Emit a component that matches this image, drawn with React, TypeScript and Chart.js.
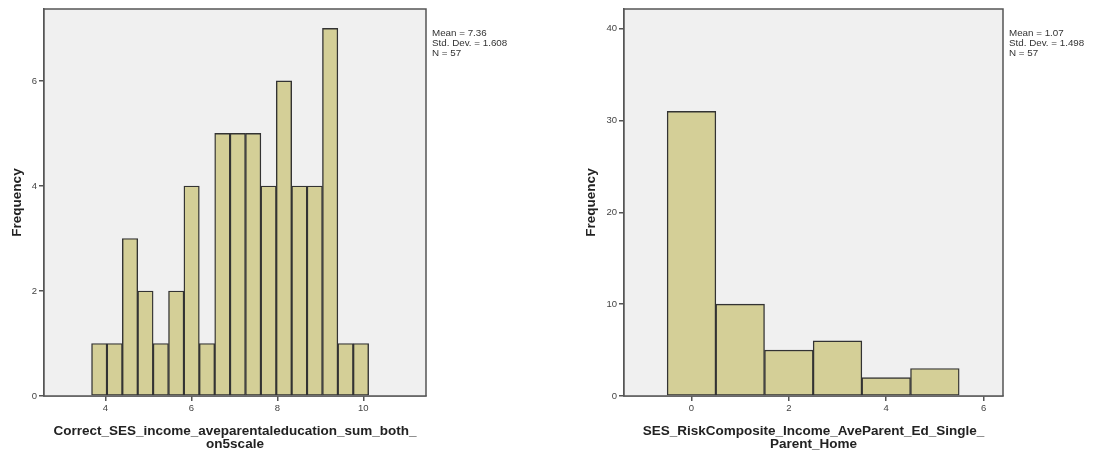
import React, { useEffect, useRef } from "react";
import { Chart, registerables } from "chart.js";

Chart.register(...registerables);

// ---------- Data ----------
const leftBinCenters = [3.859, 4.217, 4.575, 4.933, 5.291, 5.649, 6.007, 6.365, 6.723, 7.081, 7.439, 7.797, 8.155, 8.513, 8.871, 9.229, 9.587, 9.945];
const leftCounts = [1, 1, 3, 2, 1, 2, 4, 1, 5, 5, 5, 4, 6, 4, 4, 7, 1, 1];
const leftXTicks = [4, 6, 8, 10];
const leftYTicks = [0, 2, 4, 6];
const leftStats = ["Mean = 7.36", "Std. Dev. = 1.608", "N = 57"];
const leftXTitle = ["Correct_SES_income_aveparentaleducation_sum_both_", "on5scale"];

const rightBinCenters = [0, 1, 2, 3, 4, 5];
const rightCounts = [31, 10, 5, 6, 2, 3];
const rightXTicks = [0, 2, 4, 6];
const rightYTicks = [0, 10, 20, 30, 40];
const rightStats = ["Mean = 1.07", "Std. Dev. = 1.498", "N = 57"];
const rightXTitle = ["SES_RiskComposite_Income_AveParent_Ed_Single_", "Parent_Home"];

const yTitle = "Frequency";

// ---------- Styles ----------
const BAR_FILL = "#d4cf97";
const BAR_BORDER = "#333333";
const PLOT_BG = "#f0f0f0";
const FRAME = "#555555";
const FONT = "'Liberation Sans', Arial, sans-serif";

type Cfg = {
  left: number;
  width: number;
  centers: number[];
  counts: number[];
  xTicks: number[];
  yTicks: number[];
  stats: string[];
  xTitle: string[];
  xMin: number;
  xMax: number;
  yMax: number;
  padLeft: number;
  padRight: number;
  yAxisWidth: number;
  yTitlePad: number;
};

const H = 453;

const framePlugin = {
  id: "frame",
  beforeDatasetsDraw(chart: any) {
    const { ctx, chartArea: a } = chart;
    ctx.save();
    ctx.fillStyle = PLOT_BG;
    ctx.fillRect(a.left, a.top, a.right - a.left, a.bottom - a.top);
    ctx.restore();
  },
  afterDraw(chart: any) {
    const { ctx, chartArea: a } = chart;
    ctx.save();
    ctx.strokeStyle = FRAME;
    ctx.lineWidth = 1.5;
    ctx.strokeRect(a.left, a.top, a.right - a.left, a.bottom - a.top);
    const stats: string[] = chart.options.plugins.statsBox.lines;
    ctx.fillStyle = "#333";
    ctx.font = `9.8px ${FONT}`;
    ctx.textBaseline = "middle";
    ctx.textAlign = "left";
    stats.forEach((s, i) => ctx.fillText(s, a.right + 6, 33 + i * 10));
    ctx.restore();
  },
};

function Histogram({ cfg }: { cfg: Cfg }) {
  const ref = useRef<HTMLCanvasElement>(null);
  useEffect(() => {
    const chart = new Chart(ref.current!, {
      type: "bar",
      data: {
        datasets: [
          {
            data: cfg.centers.map((x, i) => ({ x, y: cfg.counts[i] })),
            backgroundColor: BAR_FILL,
            borderColor: BAR_BORDER,
            borderWidth: 1.4,
            borderSkipped: false,
            barPercentage: 1,
            categoryPercentage: 1,
          } as any,
        ],
      },
      plugins: [framePlugin],
      options: {
        responsive: false,
        animation: false,
        devicePixelRatio: 1,
        layout: { padding: { left: cfg.padLeft, right: cfg.padRight, top: 9, bottom: 0 } },
        plugins: {
          legend: { display: false },
          tooltip: { enabled: false },
          statsBox: { lines: cfg.stats },
        } as any,
        scales: {
          x: {
            type: "linear",
            min: cfg.xMin,
            max: cfg.xMax,
            offset: false,
            afterBuildTicks: (s: any) => {
              s.ticks = cfg.xTicks.map((v) => ({ value: v }));
            },
            afterFit: (s: any) => {
              s.height = 57;
            },
            ticks: {
              color: "#444",
              font: { family: FONT, size: 9.5 },
              padding: 2,
              maxRotation: 0,
            },
            grid: { display: true, drawOnChartArea: false, drawTicks: true, tickLength: 5, color: FRAME, lineWidth: 1.5, offset: false },
            border: { display: true, color: FRAME, width: 1.5 },
            title: {
              display: true,
              text: cfg.xTitle,
              color: "#222",
              font: { family: FONT, size: 13.5, weight: "bold", lineHeight: 1.0 },
              padding: { top: 0, bottom: 1.5 },
            },
          } as any,
          y: {
            type: "linear",
            min: 0,
            max: cfg.yMax,
            afterBuildTicks: (s: any) => {
              s.ticks = cfg.yTicks.map((v) => ({ value: v }));
            },
            afterFit: (s: any) => {
              s.width = cfg.yAxisWidth;
            },
            ticks: {
              color: "#444",
              font: { family: FONT, size: 9.5 },
              padding: 2,
            },
            grid: { display: true, drawOnChartArea: false, drawTicks: true, tickLength: 5, color: FRAME, lineWidth: 1.5 },
            border: { display: true, color: FRAME, width: 1.5 },
            title: {
              display: true,
              text: yTitle,
              color: "#222",
              font: { family: FONT, size: 13.5, weight: "bold", lineHeight: 1.1 },
              padding: { top: cfg.yTitlePad, bottom: 0 },
            },
          } as any,
        },
      },
    });
    return () => chart.destroy();
  }, [cfg]);
  return (
    <canvas
      ref={ref}
      width={cfg.width}
      height={H}
      style={{ position: "absolute", left: cfg.left, top: 0, width: cfg.width, height: H }}
    />
  );
}

const leftCfg: Cfg = {
  left: 0,
  width: 546,
  centers: leftBinCenters,
  counts: leftCounts,
  xTicks: leftXTicks,
  yTicks: leftYTicks,
  stats: leftStats,
  xTitle: leftXTitle,
  xMin: 2.574,
  xMax: 11.458,
  yMax: 7.37,
  padLeft: 0,
  padRight: 120,
  yAxisWidth: 44,
  yTitlePad: 9.5,
};

const rightCfg: Cfg = {
  left: 546,
  width: 547,
  centers: rightBinCenters,
  counts: rightCounts,
  xTicks: rightXTicks,
  yTicks: rightYTicks,
  stats: rightStats,
  xTitle: rightXTitle,
  xMin: -1.387,
  xMax: 6.4,
  yMax: 42.15,
  padLeft: 30,
  padRight: 90,
  yAxisWidth: 48,
  yTitlePad: 7.5,
};

export default function App() {
  return (
    <div style={{ position: "absolute", left: 0, top: 0, width: 1093, height: H, background: "#fff" }}>
      <Histogram cfg={leftCfg} />
      <Histogram cfg={rightCfg} />
    </div>
  );
}
